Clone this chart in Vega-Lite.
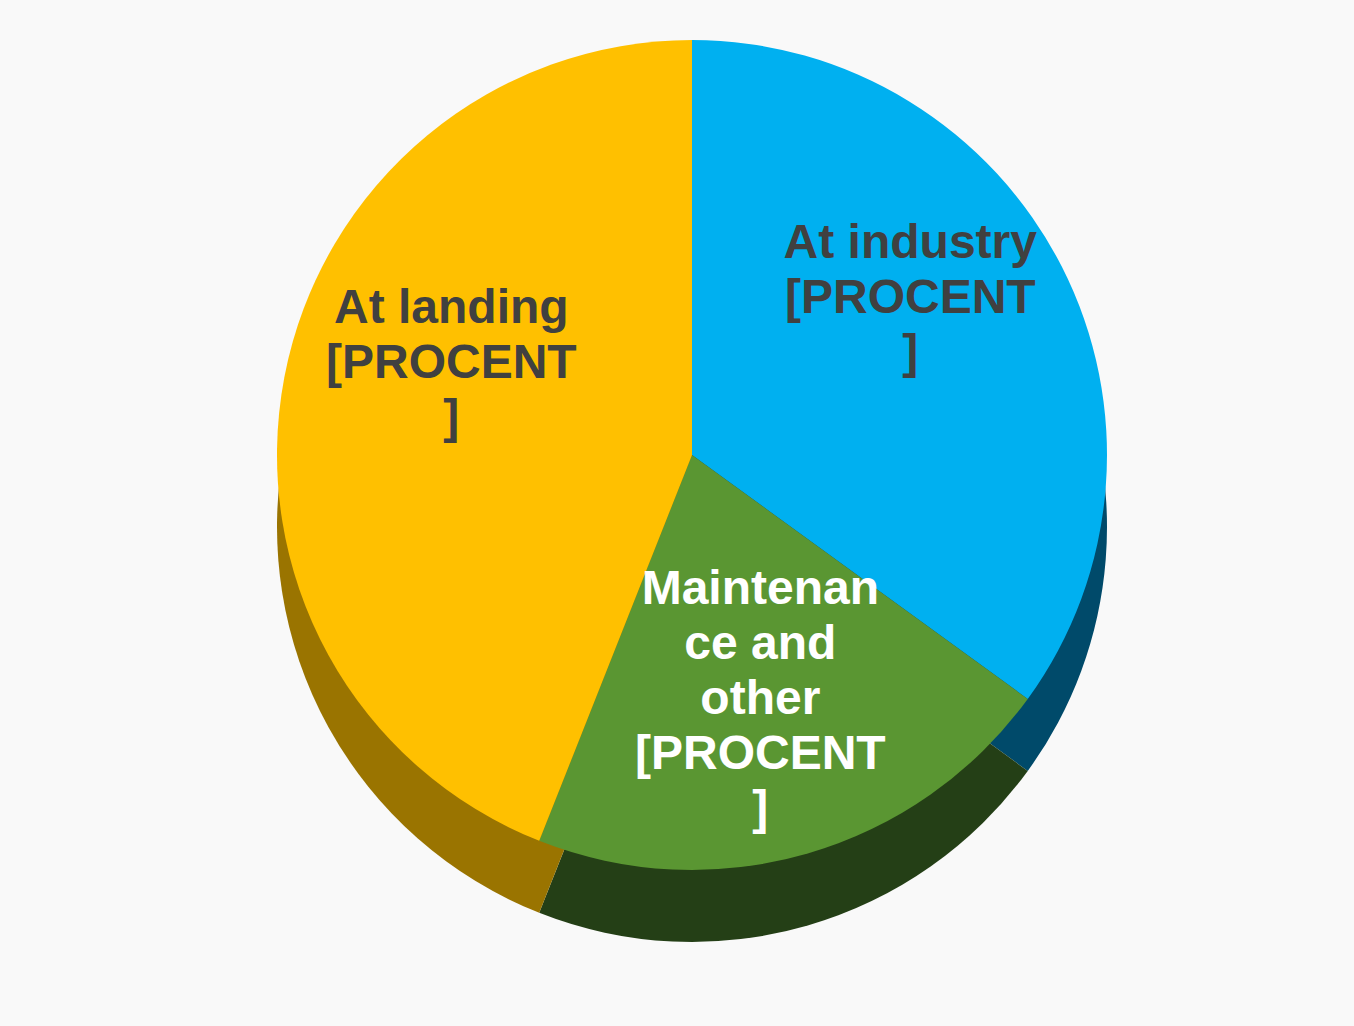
{
  "$schema": "https://vega.github.io/schema/vega-lite/v6.json",
  "autosize": "none",
  "width": 1324,
  "height": 910,
  "padding": {"left": 30, "top": 0, "right": 0, "bottom": 116},
  "background": "#f9f9f9",
  "config": {"view": {"stroke": null}},
  "data": {
    "values": [
      {"cat": "At industry", "label": "At industry\n[PROCENT\n]", "value": 35, "ord": 1},
      {"cat": "Maintenance and other", "label": "Maintenan\nce and\nother\n[PROCENT\n]", "value": 21, "ord": 2},
      {"cat": "At landing", "label": "At landing\n[PROCENT\n]", "value": 44, "ord": 3}
    ]
  },
  "encoding": {
    "theta": {"field": "value", "type": "quantitative", "stack": true},
    "order": {"field": "ord", "type": "quantitative"}
  },
  "layer": [
    {
      "mark": {"type": "arc", "outerRadius": 415, "yOffset": 72},
      "encoding": {
        "color": {
          "field": "cat", "type": "nominal", "legend": null,
          "scale": {"domain": ["At industry", "Maintenance and other", "At landing"], "range": ["#004A6A", "#243F16", "#9A7400"]}
        }
      }
    },
    {
      "mark": {"type": "arc", "outerRadius": 415},
      "encoding": {
        "color": {
          "field": "cat", "type": "nominal", "legend": null,
          "scale": {"domain": ["At industry", "Maintenance and other", "At landing"], "range": ["#00B0F0", "#5A9632", "#FFC000"]}
        }
      }
    },
    {
      "mark": {"type": "text", "radius": 245, "dy": -100, "font": "Liberation Sans", "fontWeight": "bold", "fontSize": 48, "lineHeight": 55, "lineBreak": "\n", "align": "center", "baseline": "middle"},
      "encoding": {
        "text": {"field": "label"},
        "color": {"condition": {"test": "datum.cat === 'Maintenance and other'", "value": "#FFFFFF"}, "value": "#404040"}
      }
    }
  ],
  "resolve": {"scale": {"color": "independent"}}
}
